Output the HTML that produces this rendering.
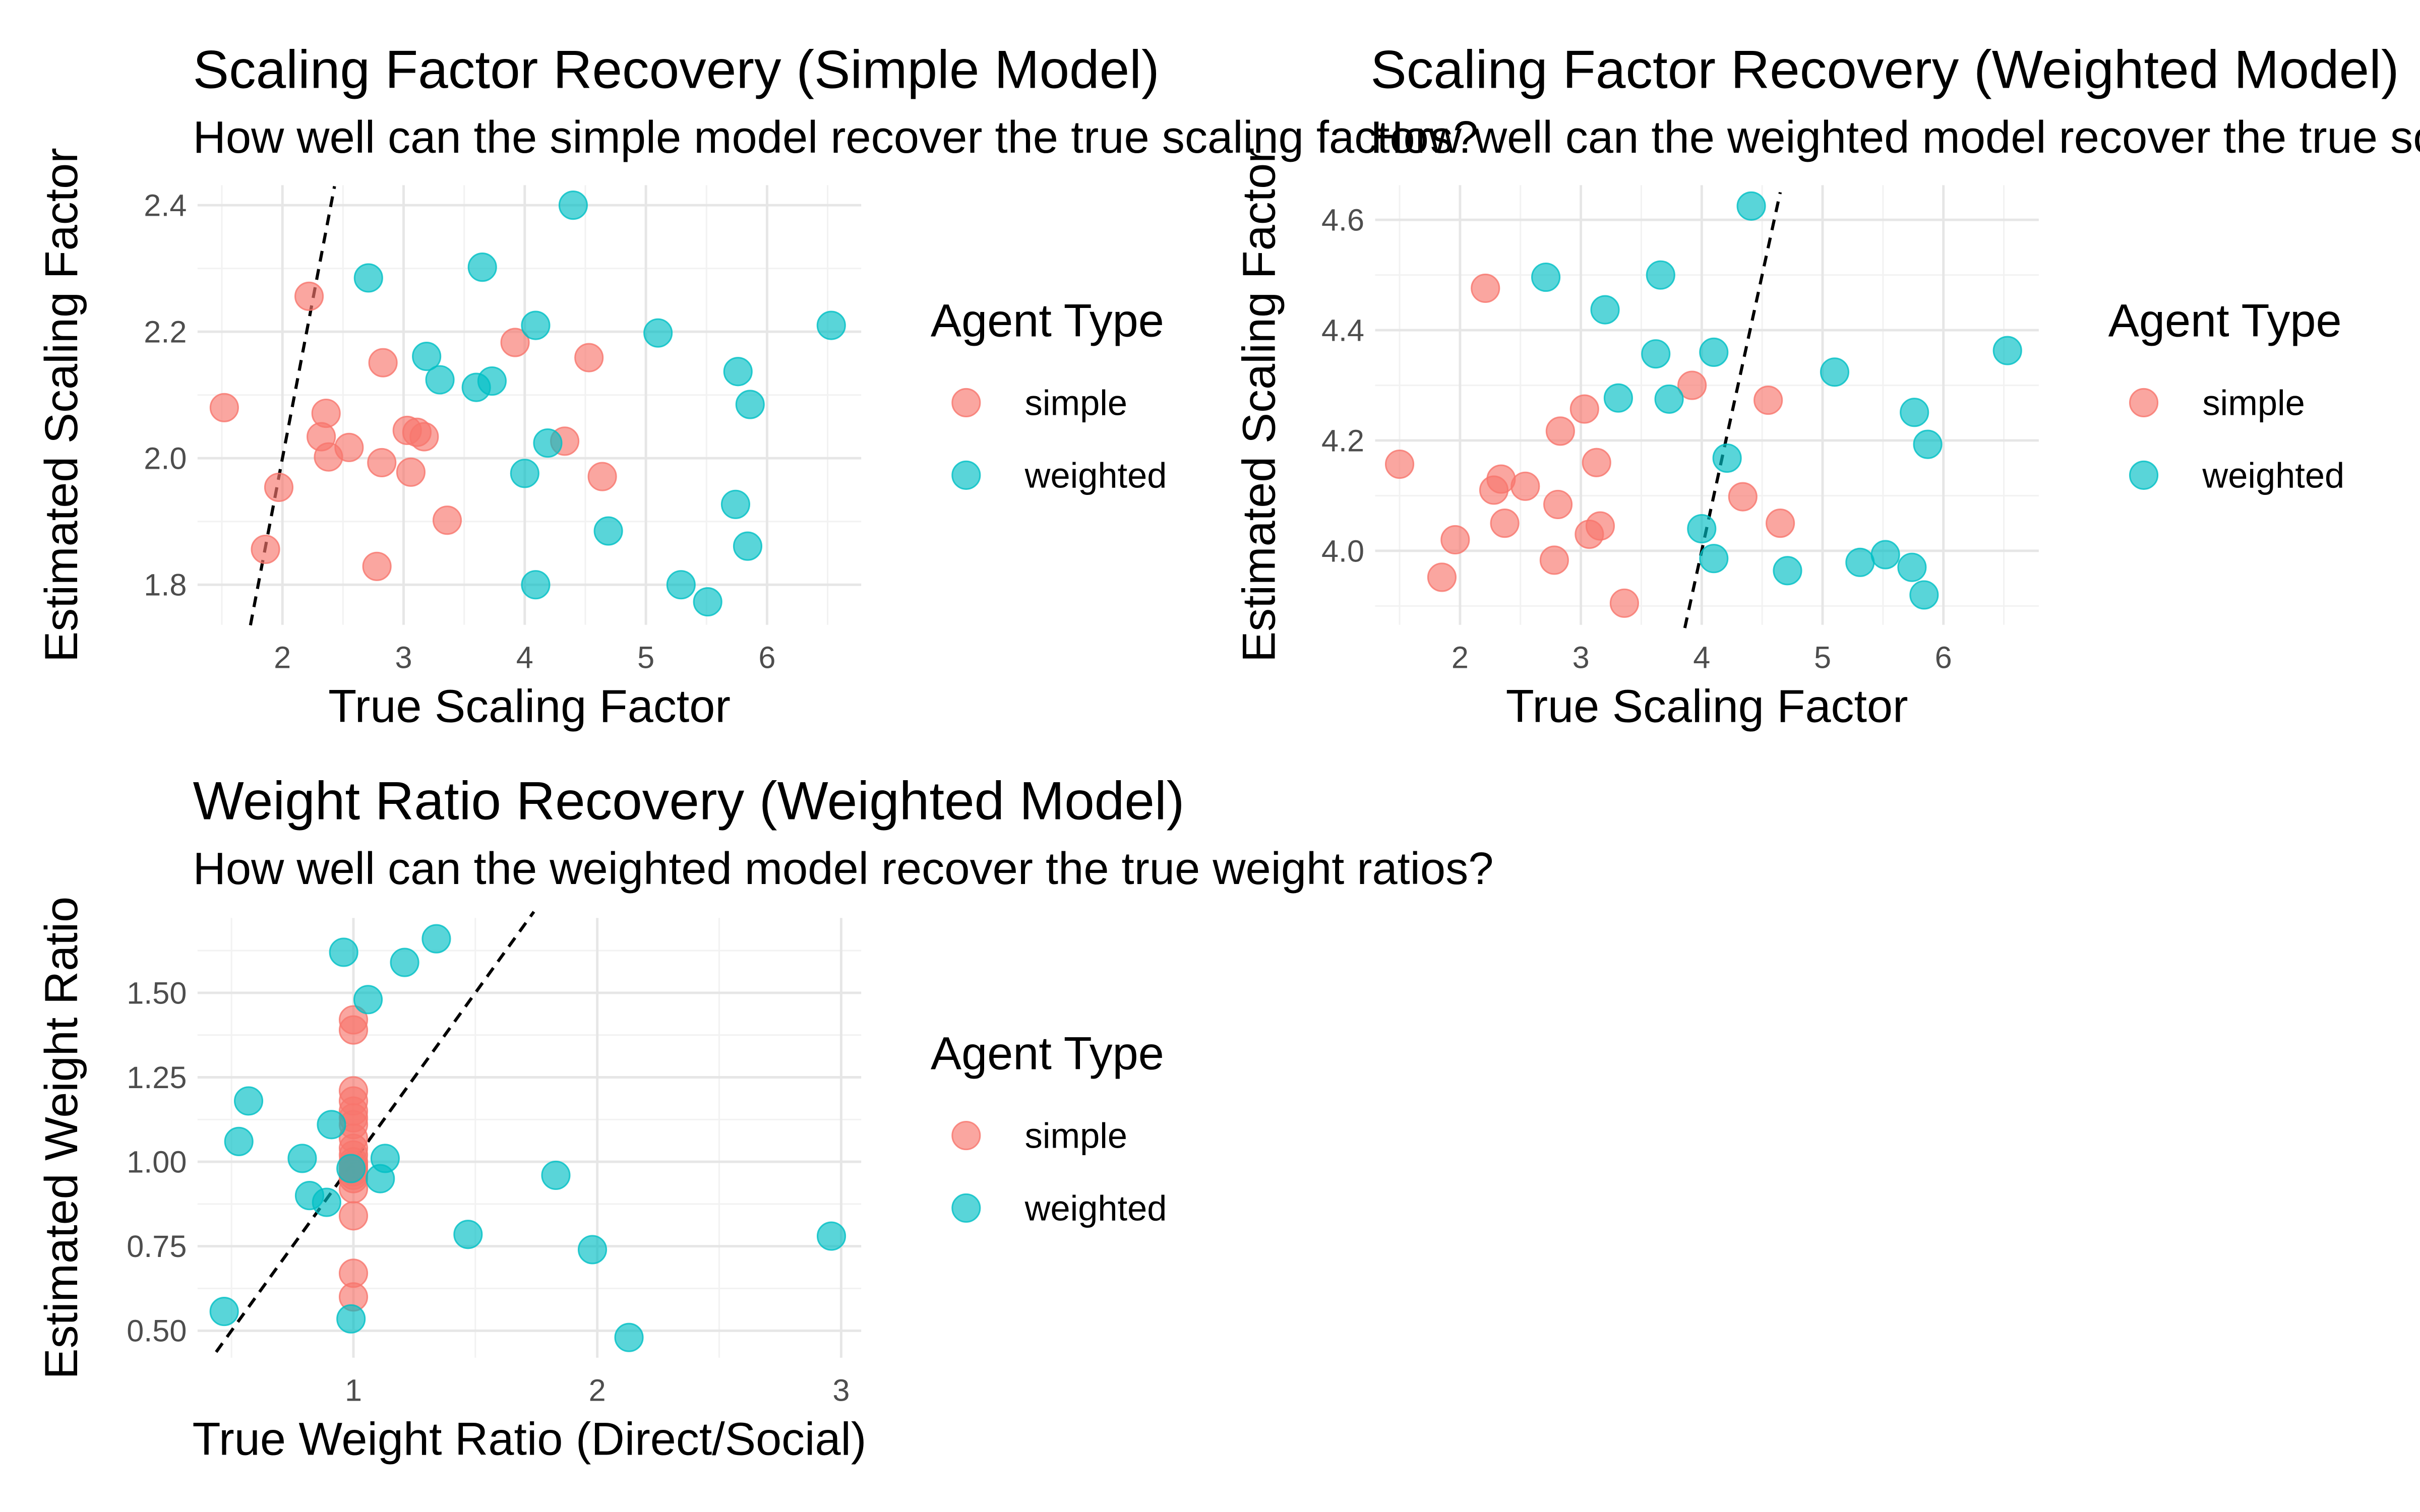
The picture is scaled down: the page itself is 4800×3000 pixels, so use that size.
<!DOCTYPE html>
<html><head><meta charset="utf-8"><style>
html,body{margin:0;padding:0;background:#fff;}
svg{display:block;font-family:"Liberation Sans",Arial,sans-serif;}
</style></head><body>
<svg id="chart" width="4800" height="3000" viewBox="0 0 1568 980" xmlns="http://www.w3.org/2000/svg"></svg>
<script>
// Panel 1 & 2: true scaling factor (shared)
const simpleTrue = [1.52,2.22,1.97,1.86,2.36,2.32,2.38,2.55,2.83,2.82,3.03,3.11,3.17,3.06,3.36,2.78,3.92,4.53,4.33,4.64];
const weightedTrue = [2.71,3.65,3.19,3.30,3.73,3.60,4.09,4.40,4.19,4.00,4.09,4.69,5.10,5.29,5.51,5.76,5.86,5.74,5.84,6.53];
const simpleEstSimple = [2.080,2.256,1.954,1.856,2.071,2.034,2.002,2.017,2.151,1.993,2.044,2.041,2.034,1.978,1.902,1.829,2.183,2.159,2.027,1.971];
const weightedEstSimple = [2.285,2.302,2.161,2.124,2.122,2.112,2.210,2.400,2.024,1.976,1.800,1.885,2.198,1.800,1.773,2.137,2.085,1.927,1.861,2.210];
const simpleTrue2 = [1.50,2.21,1.96,1.85,2.34,2.28,2.37,2.54,2.83,2.81,3.03,3.13,3.16,3.07,3.36,2.78,3.92,4.55,4.34,4.65];
const weightedTrue2 = [2.71,3.66,3.20,3.31,3.73,3.62,4.10,4.41,4.21,4.00,4.10,4.71,5.10,5.31,5.52,5.76,5.87,5.74,5.84,6.53];
const simpleEstWeighted = [4.157,4.476,4.020,3.952,4.130,4.110,4.050,4.117,4.217,4.084,4.257,4.160,4.045,4.030,3.905,3.983,4.300,4.273,4.098,4.050];
const weightedEstWeighted = [4.496,4.500,4.437,4.277,4.275,4.357,4.360,4.625,4.168,4.040,3.986,3.964,4.324,3.979,3.993,4.251,4.193,3.970,3.920,4.363];
// Panel 3: weight ratio
const simpleRatioTrue = [1,1,1,1,1,1,1,1,1,1,1,1,1,1,1,1,1,1,1,1];
const simpleRatioEst = [1.42,1.39,1.21,1.18,1.15,1.11,1.07,1.04,1.00,0.98,0.96,0.92,0.84,0.67,0.60,0.99,1.02,0.97,1.13,0.95];
const weightedRatioTrue = [0.47,0.57,0.53,0.79,0.91,0.82,0.89,0.99,1.13,1.11,0.96,1.06,1.21,1.34,1.47,1.83,1.98,2.13,2.96,0.99];
const weightedRatioEst = [0.557,1.18,1.06,1.01,1.11,0.90,0.88,0.98,1.01,0.95,1.62,1.48,1.59,1.66,0.785,0.96,0.74,0.48,0.78,0.535];
const xTicks12 = [2,3,4,5,6];
const yTicks1 = ["1.8","2.0","2.2","2.4"];
const yTicks2 = ["4.0","4.2","4.4","4.6"];
const xTicks3 = [1,2,3];
const yTicks3 = ["0.50","0.75","1.00","1.25","1.50"];
const legendLabels = ["simple","weighted"];

const NS="http://www.w3.org/2000/svg";
const svg=document.getElementById('chart');
const RED="#F8766D", CYAN="#00BFC4";
function mk(tag,attrs,parent){const e=document.createElementNS(NS,tag);for(const k in attrs)e.setAttribute(k,attrs[k]);(parent||svg).appendChild(e);return e;}
function txt(s,attrs,parent){const e=mk('text',attrs,parent);e.textContent=s;return e;}

function panel(o){
  const g=mk('g',{});
  
  
  const sx=v=>o.px0+(v-o.x0)*o.kx, sy=v=>o.py0-(v-o.y0)*o.ky;
  const L=o.left,R=o.right,T=o.top,B=o.bottom;
  for(let v=o.xmin0;v<=o.xmax0+1e-9;v+=o.xstep){const x=sx(v);if(x>=L&&x<=R){const l=mk('line',{x1:x,x2:x,y1:T,y2:B,stroke:"#f2f2f2","stroke-width":1},g);}}
  for(let v=o.ymin0;v<=o.ymax0+1e-9;v+=o.ystep){const y=sy(v);if(y>=T&&y<=B){const l=mk('line',{x1:L,x2:R,y1:y,y2:y,stroke:"#f2f2f2","stroke-width":1},g);}}
  o.xt.forEach(v=>{const x=sx(+v);const l=mk('line',{x1:x,x2:x,y1:T,y2:B,stroke:"#e6e6e6","stroke-width":1.6},g);
    const t=txt(String(v),{x:x,y:B+28,'text-anchor':'middle','font-size':20,fill:'#4d4d4d'},g);});
  o.yt.forEach(v=>{const y=sy(+v);const l=mk('line',{x1:L,x2:R,y1:y,y2:y,stroke:"#e6e6e6","stroke-width":1.6},g);
    const t=txt(v,{x:L-7,y:y+7,'text-anchor':'end','font-size':20,fill:'#4d4d4d'},g);});
  const a=o.idLo, b=o.idHi;
  const d=mk('line',{x1:sx(a),y1:sy(a),x2:sx(b),y2:sy(b),stroke:'#000','stroke-width':2,'stroke-dasharray':'7,5'},g);
  
  o.series.forEach(s=>{s.x.forEach((xv,i)=>{const c=mk('circle',{cx:sx(xv),cy:sy(s.y[i]),r:9,fill:s.c,'fill-opacity':0.65,stroke:s.c,'stroke-opacity':0.8,'stroke-width':1},g);
    });});
  const t1=txt(o.title,{x:o.tx,y:o.ty,'font-size':35,fill:'#000'},g);
  const t2=txt(o.sub,{x:o.tx,y:o.ty+42,'font-size':29.5,fill:'#000'},g);
  const t3=txt(o.xlab,{x:(L+R)/2,y:B+63,'text-anchor':'middle','font-size':30,fill:'#000'},g);
  const yc=(T+B)/2;
  const t4=txt(o.ylab,{x:o.ylx,y:yc,'text-anchor':'middle','font-size':30,fill:'#000',transform:`rotate(-90 ${o.ylx} ${yc})`},g);
  const lg=mk('g',{},g);
  const lt=txt('Agent Type',{x:o.lx,y:o.ly,'font-size':30,fill:'#000'},lg);
  legendLabels.forEach((lab,i)=>{const col=i?CYAN:RED;const cy=o.ly+43+i*47;
    const c=mk('circle',{cx:o.lx+23,cy:cy,r:9,fill:col,'fill-opacity':0.65,stroke:col,'stroke-opacity':0.8},lg);
    const t=txt(lab,{x:o.lx+61,y:cy+8,'font-size':23,fill:'#000'},lg);});
}

panel({name:'simple-model-panel',left:128,right:558,top:120,bottom:405,px0:183,x0:2,kx:78.5,py0:297,y0:2.0,ky:410,
  xmin0:1.5,xmax0:6.5,xstep:1,ymin0:1.7,ymax0:2.3,ystep:0.2,xt:xTicks12,yt:yTicks1,idLo:1.736,idHi:2.43,
  series:[{n:'simple',c:RED,x:simpleTrue,y:simpleEstSimple},{n:'weighted',c:CYAN,x:weightedTrue,y:weightedEstSimple}],
  title:'Scaling Factor Recovery (Simple Model)',sub:'How well can the simple model recover the true scaling factors?',tx:125,ty:57,
  xlab:'True Scaling Factor',ylab:'Estimated Scaling Factor',ylx:50,lx:603,ly:218});
panel({name:'weighted-model-panel',left:891,right:1321,top:120,bottom:405,px0:946,x0:2,kx:78.3,py0:357,y0:4.0,ky:357.5,
  xmin0:1.5,xmax0:6.5,xstep:1,ymin0:3.9,ymax0:4.5,ystep:0.2,xt:xTicks12,yt:yTicks2,idLo:3.86,idHi:4.65,
  series:[{n:'simple',c:RED,x:simpleTrue2,y:simpleEstWeighted},{n:'weighted',c:CYAN,x:weightedTrue2,y:weightedEstWeighted}],
  title:'Scaling Factor Recovery (Weighted Model)',sub:'How well can the weighted model recover the true scaling factors?',tx:888,ty:57,
  xlab:'True Scaling Factor',ylab:'Estimated Scaling Factor',ylx:826,lx:1366,ly:218});
panel({name:'weight-ratio-panel',left:128,right:558,top:595,bottom:880,px0:229,x0:1,kx:158,py0:753,y0:1.0,ky:219,
  xmin0:0.5,xmax0:3.0,xstep:0.5,ymin0:0.625,ymax0:1.625,ystep:0.25,xt:xTicks3,yt:yTicks3,idLo:0.437,idHi:1.74,
  series:[{n:'simple',c:RED,x:simpleRatioTrue,y:simpleRatioEst},{n:'weighted',c:CYAN,x:weightedRatioTrue,y:weightedRatioEst}],
  title:'Weight Ratio Recovery (Weighted Model)',sub:'How well can the weighted model recover the true weight ratios?',tx:125,ty:531,
  xlab:'True Weight Ratio (Direct/Social)',ylab:'Estimated Weight Ratio',ylx:50,lx:603,ly:693});
</script>
</body></html>
